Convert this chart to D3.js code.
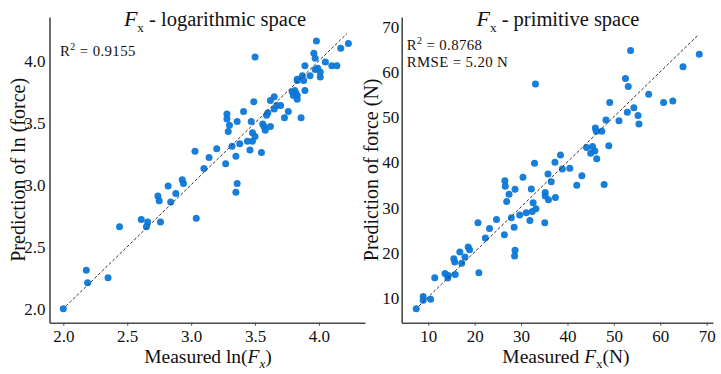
<!DOCTYPE html>
<html>
<head>
<meta charset="utf-8">
<script src="https://cdn.jsdelivr.net/npm/d3@7"></script>
<style>
  html, body { margin: 0; padding: 0; background: #fff; }
  svg { display: block; }
  text { font-family: "Liberation Serif", "Times New Roman", serif; fill: #111; }
</style>
</head>
<body>
<svg id="chart" width="721" height="374"></svg>
<script>
// ---- Data: logarithmic space (measured ln(Fx), predicted ln(force)) ----
const logMeasured = [2.00,2.18,2.19,2.35,2.44,2.61,2.66,2.65,2.76,2.74,2.75,2.84,2.88,2.82,3.04,3.35,
  2.93,2.94,3.03,3.10,3.14,3.20,3.27,3.36,3.28,3.28,3.29,3.30,3.32,3.35,3.36,3.38,3.41,3.44,3.46,3.47,
  3.48,3.48,3.49,3.50,3.50,3.55,3.56,3.57,3.58,3.59,3.60,3.62,3.62,3.65,3.65,3.67,3.70,3.73,3.76,3.79,
  3.80,3.81,3.82,3.83,3.83,3.83,3.83,3.86,3.87,3.88,3.89,3.89,3.93,3.96,3.97,3.97,3.98,3.99,4.01,4.01,
  4.05,4.10,4.14,4.17,4.23];
const logPredicted = [2.00,2.31,2.21,2.25,2.66,2.72,2.70,2.66,2.70,2.91,2.87,2.86,2.93,2.99,2.73,2.94,
  3.04,3.01,3.27,3.13,3.22,3.29,3.17,3.01,3.57,3.53,3.43,3.48,3.31,3.23,3.51,3.33,3.59,3.35,3.28,3.51,
  3.35,3.42,3.67,4.03,3.39,3.26,3.49,3.47,3.44,3.56,3.58,3.47,3.68,3.71,3.61,3.64,3.64,3.54,3.59,3.75,
  3.72,3.76,3.74,3.72,3.69,3.84,3.85,3.54,3.88,3.84,3.76,3.96,3.88,4.06,4.02,3.93,4.16,3.94,3.91,3.87,
  3.99,3.96,3.96,4.10,4.14];
const logFitLine = [2.02, 4.22];
const logXTicks = [2.0, 2.5, 3.0, 3.5, 4.0];
const logYTicks = [2.0, 2.5, 3.0, 3.5, 4.0];

// ---- Data: primitive space (measured Fx [N], predicted force [N]) ----
const primMeasured = [7.4,8.9,8.9,10.5,11.4,13.6,14.3,14.2,15.8,15.5,15.7,16.8,17.2,17.9,18.6,18.9,20.9,
  20.7,22.3,23.2,24.7,26.4,26.9,27.4,27.9,28.5,28.7,28.6,28.7,29.7,31.1,31.9,32.4,32.6,33.2,32.2,35.1,
  35.2,35.2,35.9,37.4,26.5,26.6,30.4,32.9,35.8,36.5,37.3,38.5,38.9,40.5,42.0,43.1,44.1,45.4,45.0,45.9,
  46.3,47.9,48.9,46.0,46.2,47.4,48.3,51.1,49.1,52.9,54.3,55.2,55.4,52.5,53.1,57.5,60.7,62.7,64.9,68.4,
  53.6,33.1];
const primPredicted = [7.4,10.1,9.3,9.5,14.3,15.2,14.8,14.2,15.0,18.5,17.8,20.0,17.5,18.9,21.1,20.5,15.4,
  26.5,23.1,25.2,27.2,23.8,31.2,32.8,27.6,25.5,20.4,19.1,33.9,28.2,28.7,27.0,29.0,30.9,29.6,34.0,26.5,
  33.2,32.4,31.6,32.1,35.8,34.6,36.6,39.7,37.3,35.6,39.9,41.5,38.4,38.6,34.8,36.9,43.2,43.4,41.9,42.4,
  40.7,35.0,43.6,47.5,46.8,46.8,49.3,49.1,53.2,51.0,52.0,50.3,48.4,58.5,56.7,55.0,53.2,53.5,61.1,63.9,
  64.7,57.3];
const primFitLine = [8.0, 68.2];
const primXTicks = [10, 20, 30, 40, 50, 60, 70];
const primYTicks = [10, 20, 30, 40, 50, 60, 70];

const svg = d3.select("#chart");
const AXIS_COLOR = "#4a4a4a";
const DOT_COLOR = "#0b77d8";

function panel(cfg) {
  const g = svg.append("g");
  const x = d3.scaleLinear().domain(cfg.xDomain).range([cfg.left, cfg.right]);
  const y = d3.scaleLinear().domain(cfg.yDomain).range([cfg.bottom, cfg.top]);

  // axes
  const xAxis = d3.axisBottom(x).tickValues(cfg.xTicks).tickFormat(cfg.fmt).tickSize(3).tickSizeOuter(0);
  const yAxis = d3.axisLeft(y).tickValues(cfg.yTicks).tickFormat(cfg.fmt).tickSize(0).tickSizeOuter(0);
  const gx = g.append("g").attr("transform", `translate(0,${cfg.bottom})`).call(xAxis);
  const gy = g.append("g").attr("transform", `translate(${cfg.left},0)`).call(yAxis);
  [gx, gy].forEach(a => {
    a.select(".domain").attr("stroke", AXIS_COLOR).attr("stroke-width", 1.6);
    a.selectAll(".tick line").attr("stroke", AXIS_COLOR).attr("stroke-width", 1);
    a.selectAll(".tick text").style("font-family", '"Liberation Serif", serif')
      .style("font-size", "17px").attr("fill", "#111");
  });
  gx.selectAll(".tick text").attr("dy", "0.95em").attr("y", 3);
  gy.selectAll(".tick text").attr("x", cfg.yLabelGap).attr("dy", "0.36em");

  // points
  g.append("g").selectAll("circle")
    .data(cfg.xs.map((v, i) => [v, cfg.ys[i]]))
    .join("circle")
    .attr("cx", d => x(d[0])).attr("cy", d => y(d[1])).attr("r", 3.5)
    .attr("fill", DOT_COLOR).attr("fill-opacity", 0.95);

  // 1:1 line
  g.append("line")
    .attr("x1", x(cfg.line[0])).attr("y1", y(cfg.line[0]))
    .attr("x2", x(cfg.line[1])).attr("y2", y(cfg.line[1]))
    .attr("stroke", "#333").attr("stroke-width", 1).attr("stroke-dasharray", "3,2");

  // title
  const t = g.append("text").attr("x", cfg.titleX).attr("y", 26)
    .attr("text-anchor", "middle").style("font-size", "20.5px");
  t.append("tspan").style("font-style", "italic").style("font-size", "22px").text("F");
  t.append("tspan").attr("dy", 6).style("font-size", "13px").text("x");
  t.append("tspan").attr("dy", -6).text(" - " + cfg.title);

  // stats
  cfg.stats.forEach((s, i) => {
    const st = g.append("text").attr("x", cfg.statsX).attr("y", cfg.statsY + i * 16.7)
      .style("font-size", "14.8px").style("letter-spacing", "0.4px");
    if (s.sup) {
      st.append("tspan").text("R");
      st.append("tspan").attr("dy", -6).style("font-size", "10px").text("2");
      st.append("tspan").attr("dy", 6).text(s.text);
    } else {
      st.text(s.text);
    }
  });

  // y label
  g.append("text")
    .attr("transform", `translate(${cfg.yTitleX},${(cfg.top + cfg.bottom) / 2}) rotate(-90)`)
    .attr("text-anchor", "middle").style("font-size", "20px").text(cfg.yTitle);

  // x label
  const xl = g.append("text").attr("x", cfg.xTitleX).attr("y", 363)
    .attr("text-anchor", "middle").style("font-size", "19.5px");
  cfg.xTitle(xl);
}

panel({
  left: 49.5, right: 365, top: 17, bottom: 322.7,
  xDomain: [1.892, 4.36], yDomain: [1.887, 4.353],
  xTicks: logXTicks, yTicks: logYTicks, fmt: d3.format(".1f"), yLabelGap: -4,
  xs: logMeasured, ys: logPredicted, line: logFitLine,
  titleX: 215, title: "logarithmic space",
  statsX: 60, statsY: 56,
  stats: [{ sup: true, text: " = 0.9155" }],
  yTitleX: 25, yTitle: "Prediction of ln (force)",
  xTitleX: 208,
  xTitle: t => {
    t.append("tspan").text("Measured ln(");
    t.append("tspan").style("font-style", "italic").text("F");
    t.append("tspan").attr("dy", 5).style("font-size", "13px").style("font-style", "italic").text("x");
    t.append("tspan").attr("dy", -5).text(")");
  }
});

panel({
  left: 401.7, right: 713, top: 17, bottom: 322.7,
  xDomain: [4.27, 71.36], yDomain: [4.3, 72.15],
  xTicks: primXTicks, yTicks: primYTicks, fmt: d3.format("d"), yLabelGap: -2.5,
  xs: primMeasured, ys: primPredicted, line: primFitLine,
  titleX: 558, title: "primitive space",
  statsX: 406.7, statsY: 50,
  stats: [{ sup: true, text: " = 0.8768" }, { sup: false, text: "RMSE = 5.20 N" }],
  yTitleX: 378, yTitle: "Prediction of force (N)",
  xTitleX: 566,
  xTitle: t => {
    t.append("tspan").text("Measured ");
    t.append("tspan").style("font-style", "italic").text("F");
    t.append("tspan").attr("dy", 5).style("font-size", "13px").text("x");
    t.append("tspan").attr("dy", -5).text("(N)");
  }
});
</script>
</body>
</html>
